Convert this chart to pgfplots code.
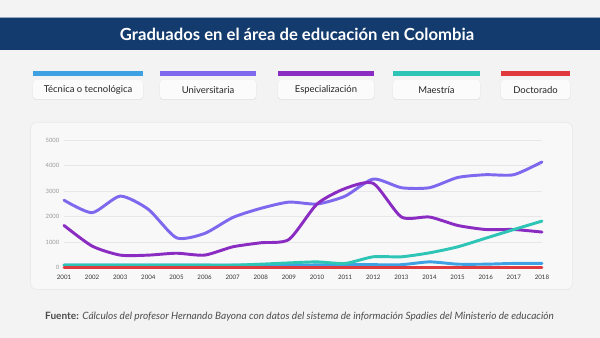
\documentclass[border=0pt]{standalone}
\usepackage{pgfplots}
\pgfplotsset{compat=1.18}
\usepackage{fontspec}
\setmainfont{Lato}
\definecolor{bgc}{HTML}{F3F3F4}
\definecolor{cardc}{HTML}{F8F8F9}
\definecolor{navy}{HTML}{143B6E}
\definecolor{ctec}{HTML}{3DA1E3}
\definecolor{cuni}{HTML}{7E68EE}
\definecolor{cesp}{HTML}{8A2BC2}
\definecolor{cmae}{HTML}{2EC4B6}
\definecolor{cdoc}{HTML}{E0393E}
\definecolor{gridc}{HTML}{E7E7E9}
\begin{document}
\begin{tikzpicture}
\begin{scope}[x=0.75pt,y=0.75pt]
\path[use as bounding box, fill=bgc] (0,0) rectangle (600,338);
% banner
\fill[navy] (0,288) rectangle (600,319.5);
\draw[color=navy!45, line width=0.75pt] (0,320) -- (600,320);
\node[text=white, font=\bfseries\fontsize{12.5}{14}\selectfont] at (297,304) {Graduados en el área de educación en Colombia};
% legend
\foreach \xa/\xb/\c/\t in {33/143/ctec/Técnica o tecnológica, 160/256/cuni/Universitaria, 278/374/cesp/Especialización, 393/480/cmae/Maestría, 501/570/cdoc/Doctorado}{
  \fill[black, opacity=0.05, rounded corners=2.5pt] (\xa-0.5,238) rectangle (\xb+0.5,257.5);
  \fill[white!70!bgc, rounded corners=2.5pt] (\xa,239) rectangle (\xb,258);
  \fill[\c] (\xa,262) rectangle (\xb,266.5);
  \node[text=black!85, font=\fontsize{7.1}{8}\selectfont] at ({(\xa+\xb)/2},248) {\t};
}
% card
\fill[black, opacity=0.03, rounded corners=5pt] (30,48) rectangle (573,216);
\fill[cardc, rounded corners=4pt] (31,49) rectangle (572,215);
% footer
\node[text=black!70, font=\fontsize{7.55}{9}\selectfont] at (299.5,21) {\textbf{Fuente:} \textit{Cálculos del profesor Hernando Bayona con datos del sistema de información Spadies del Ministerio de educación}};
\end{scope}
\begin{axis}[
  at={(48pt,52.875pt)}, anchor=south west,
  scale only axis, width=358.5pt, height=95.6pt,
  xmin=2001, xmax=2018, ymin=0, ymax=5000,
  axis line style={draw=none},
  tick style={draw=none},
  xtick={2001,...,2018}, ytick={0,1000,...,5000},
  ymajorgrids, grid style={color=gridc, line width=0.6pt},
  /pgf/number format/assume math mode=true,
  /pgf/number format/1000 sep={},
  scaled ticks=false,
  xticklabel style={font=\fontsize{4.6}{5}\selectfont, text=black!80, yshift=-2.5pt},
  yticklabel style={font=\fontsize{4.4}{5}\selectfont, text=black!40},
  every axis plot/.append style={line width=2.2pt, smooth, tension=0.4, line join=round, line cap=round},
  clip=false,
]
\addplot[ctec] coordinates {(2001,90)(2002,90)(2003,90)(2004,90)(2005,90)(2006,90)(2007,90)(2008,90)(2009,95)(2010,100)(2011,110)(2012,110)(2013,110)(2014,220)(2015,130)(2016,130)(2017,160)(2018,160)};
\addplot[cuni] coordinates {(2001,2640)(2002,2150)(2003,2800)(2004,2280)(2005,1165)(2006,1335)(2007,1960)(2008,2320)(2009,2565)(2010,2490)(2011,2800)(2012,3470)(2013,3130)(2014,3130)(2015,3530)(2016,3640)(2017,3640)(2018,4140)};
\addplot[cesp] coordinates {(2001,1650)(2002,840)(2003,485)(2004,485)(2005,560)(2006,485)(2007,810)(2008,970)(2009,1100)(2010,2490)(2011,3100)(2012,3300)(2013,1980)(2014,1980)(2015,1650)(2016,1490)(2017,1490)(2018,1390)};
\addplot[cmae] coordinates {(2001,90)(2002,90)(2003,90)(2004,90)(2005,90)(2006,90)(2007,90)(2008,130)(2009,180)(2010,220)(2011,160)(2012,420)(2013,420)(2014,575)(2015,810)(2016,1150)(2017,1490)(2018,1820)};
\addplot[cdoc] coordinates {(2001,10)(2002,10)(2003,10)(2004,10)(2005,10)(2006,10)(2007,10)(2008,10)(2009,10)(2010,10)(2011,10)(2012,10)(2013,10)(2014,10)(2015,10)(2016,10)(2017,10)(2018,10)};
\end{axis}
\end{tikzpicture}
\end{document}
